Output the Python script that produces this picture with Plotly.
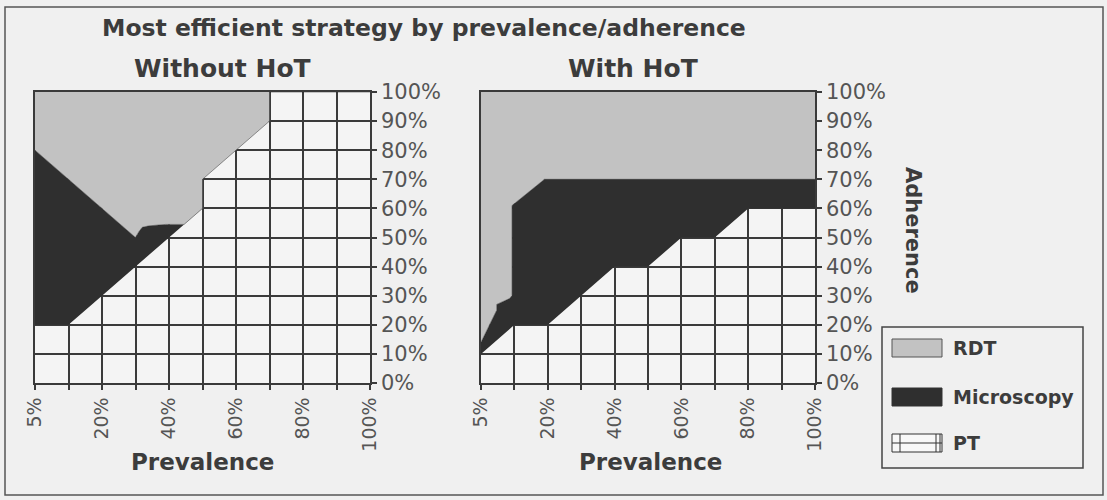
import plotly.graph_objects as go

# ---------------- data ----------------
prevalence = ["5%", "10%", "20%", "30%", "40%", "50%", "60%", "70%", "80%", "90%", "100%"]
adherence_ticks = [0, 10, 20, 30, 40, 50, 60, 70, 80, 90, 100]
series_names = ["RDT", "Microscopy", "PT"]

# boundaries, x given as position on the prevalence category axis (0 = 5%, 1 = 10%, 2 = 20% ...)
# Without HoT
wo_pt_x = [0, 1, 2, 3, 4, 5, 5, 6, 7, 7, 10]
wo_pt_y = [20, 20, 30, 40, 50, 60, 70, 80, 90, 100, 100]
wo_mic_x = [0, 3, 3.1, 3.2, 3.4, 3.9, 4.45, 5, 5, 6, 7, 7, 10]
wo_mic_y = [80, 50, 52, 53.5, 54, 54.5, 54.5, 60, 70, 80, 90, 100, 100]

# With HoT
w_pt_x = [0, 1, 2, 4, 5, 6, 7, 8, 10]
w_pt_y = [10, 20, 20, 40, 40, 50, 50, 60, 60]
w_mic_x = [0, 0.47, 0.47, 0.85, 0.93, 0.93, 1.9, 10]
w_mic_y = [14, 25, 27, 29, 30, 61, 70, 70]

rdt_top = [100, 100]
rdt_top_x = [0, 10]

# ---------------- styling ----------------
colors = {"RDT": "#c2c2c2", "Microscopy": "#2f2f2f", "PT": "rgba(0,0,0,0)"}
W, H = 1107, 500
ML, MR, MT, MB = 35, 292, 92, 117
PW, PH = W - ML - MR, H - MT - MB


def pxx(px):
    return (px - ML) / PW


def pxy(py):
    return (H - MB - py) / PH


FONT = "DejaVu Sans"
GRID = "#3a3a3a"
TXT = "#3c3c3c"

fig = go.Figure()

panels = [
    ("x", "y", wo_pt_x, wo_pt_y, wo_mic_x, wo_mic_y),
    ("x2", "y2", w_pt_x, w_pt_y, w_mic_x, w_mic_y),
]
for xa, ya, ptx, pty, mx, my in panels:
    fig.add_trace(go.Scatter(x=ptx, y=pty, xaxis=xa, yaxis=ya, mode="lines", name="PT",
                             fill="tozeroy", fillcolor=colors["PT"],
                             line=dict(width=0, color=GRID), showlegend=False, hoverinfo="skip"))
    fig.add_trace(go.Scatter(x=mx, y=my, xaxis=xa, yaxis=ya, mode="lines", name="Microscopy",
                             fill="tonexty", fillcolor=colors["Microscopy"],
                             line=dict(width=0.5, color=colors["Microscopy"]), showlegend=False, hoverinfo="skip"))
    fig.add_trace(go.Scatter(x=rdt_top_x, y=rdt_top, xaxis=xa, yaxis=ya, mode="lines", name="RDT",
                             fill="tonexty", fillcolor=colors["RDT"],
                             line=dict(width=0, color=colors["RDT"]), showlegend=False, hoverinfo="skip"))

ticktext = [p if i % 2 == 0 else "" for i, p in enumerate(prevalence)]
xcommon = dict(range=[0, 10], tickmode="array", tickvals=list(range(len(prevalence))), ticktext=ticktext,
               tickangle=-90, ticks="outside", ticklen=5, tickwidth=1.5, tickcolor=GRID,
               showline=True, linecolor=GRID, linewidth=1.5, mirror=True,
               showgrid=True, gridcolor=GRID, gridwidth=1.5, zeroline=False,
               tickfont=dict(family=FONT, size=19, color="#555555"))
ycommon = dict(range=[0, 100], tickmode="array", tickvals=adherence_ticks,
               ticktext=[f"{v}%" for v in adherence_ticks], side="right",
               ticks="outside", ticklen=5, tickwidth=1.5, tickcolor=GRID,
               showline=True, linecolor=GRID, linewidth=1.5, mirror=True,
               showgrid=True, gridcolor=GRID, gridwidth=1.5, zeroline=False,
               tickfont=dict(family=FONT, size=21, color="#555555"))

fig.update_layout(
    width=W, height=H, margin=dict(l=ML, r=MR, t=MT, b=MB),
    paper_bgcolor="#f0f0f0", plot_bgcolor="#f4f4f4", showlegend=False,
    xaxis=dict(domain=[0, pxx(370)], anchor="y", **xcommon),
    xaxis2=dict(domain=[pxx(481), 1], anchor="y2", **xcommon),
    yaxis=dict(domain=[0, 1], anchor="x", **ycommon),
    yaxis2=dict(domain=[0, 1], anchor="x2", **ycommon),
)

ann = []
ann.append(dict(text="<b>Most efficient strategy by prevalence/adherence</b>", x=pxx(100), y=pxy(28),
                xanchor="left", yanchor="middle", font=dict(family=FONT, size=23.5, color=TXT)))
ann.append(dict(text="<b>Without HoT</b>", x=pxx(222), y=pxy(68), xanchor="center", yanchor="middle",
                font=dict(family=FONT, size=25, color=TXT)))
ann.append(dict(text="<b>With HoT</b>", x=pxx(633), y=pxy(68), xanchor="center", yanchor="middle",
                font=dict(family=FONT, size=25, color=TXT)))
for cx in (202, 650):
    ann.append(dict(text="<b>Prevalence</b>", x=pxx(cx), y=pxy(462), xanchor="center", yanchor="middle",
                    font=dict(family=FONT, size=23, color=TXT)))
ann.append(dict(text="<b>Adherence</b>", x=pxx(913), y=pxy(230), xanchor="center", yanchor="middle",
                textangle=90, font=dict(family=FONT, size=21, color=TXT)))

# legend (drawn manually to match the boxed legend)
shapes = []
shapes.append(dict(type="rect", xref="paper", yref="paper", x0=pxx(5), x1=pxx(1103), y0=pxy(7), y1=pxy(495),
                   line=dict(color="#555555", width=1.5), fillcolor="rgba(0,0,0,0)", layer="below"))
shapes.append(dict(type="rect", xref="paper", yref="paper", x0=pxx(882), x1=pxx(1083), y0=pxy(327), y1=pxy(468),
                   line=dict(color="#444444", width=1.5), fillcolor="rgba(0,0,0,0)"))
legend_y = {"RDT": 348, "Microscopy": 397, "PT": 443}
for name in series_names:
    cy = legend_y[name]
    fill = colors[name] if name != "PT" else "#f8f8f8"
    shapes.append(dict(type="rect", xref="paper", yref="paper", x0=pxx(892), x1=pxx(942),
                       y0=pxy(cy - 9), y1=pxy(cy + 9), fillcolor=fill,
                       line=dict(color="#555555" if name == "RDT" else "#333333", width=1)))
    ann.append(dict(text=f"<b>{name}</b>", x=pxx(951), y=pxy(cy), xanchor="left", yanchor="middle",
                    font=dict(family=FONT, size=19, color=TXT)))
# grid inside the PT key
pty = legend_y["PT"]
shapes.append(dict(type="line", xref="paper", yref="paper", x0=pxx(892), x1=pxx(942), y0=pxy(pty), y1=pxy(pty),
                   line=dict(color="#333333", width=1)))
for vx in (900, 936, 940):
    shapes.append(dict(type="line", xref="paper", yref="paper", x0=pxx(vx), x1=pxx(vx), y0=pxy(pty - 9),
                       y1=pxy(pty + 9), line=dict(color="#333333", width=1)))

for a in ann:
    a.update(xref="paper", yref="paper", showarrow=False)
fig.update_layout(annotations=ann, shapes=shapes)

fig.write_html("out.html", config={"displayModeBar": False},
               post_script="document.body.style.margin='0px';")
